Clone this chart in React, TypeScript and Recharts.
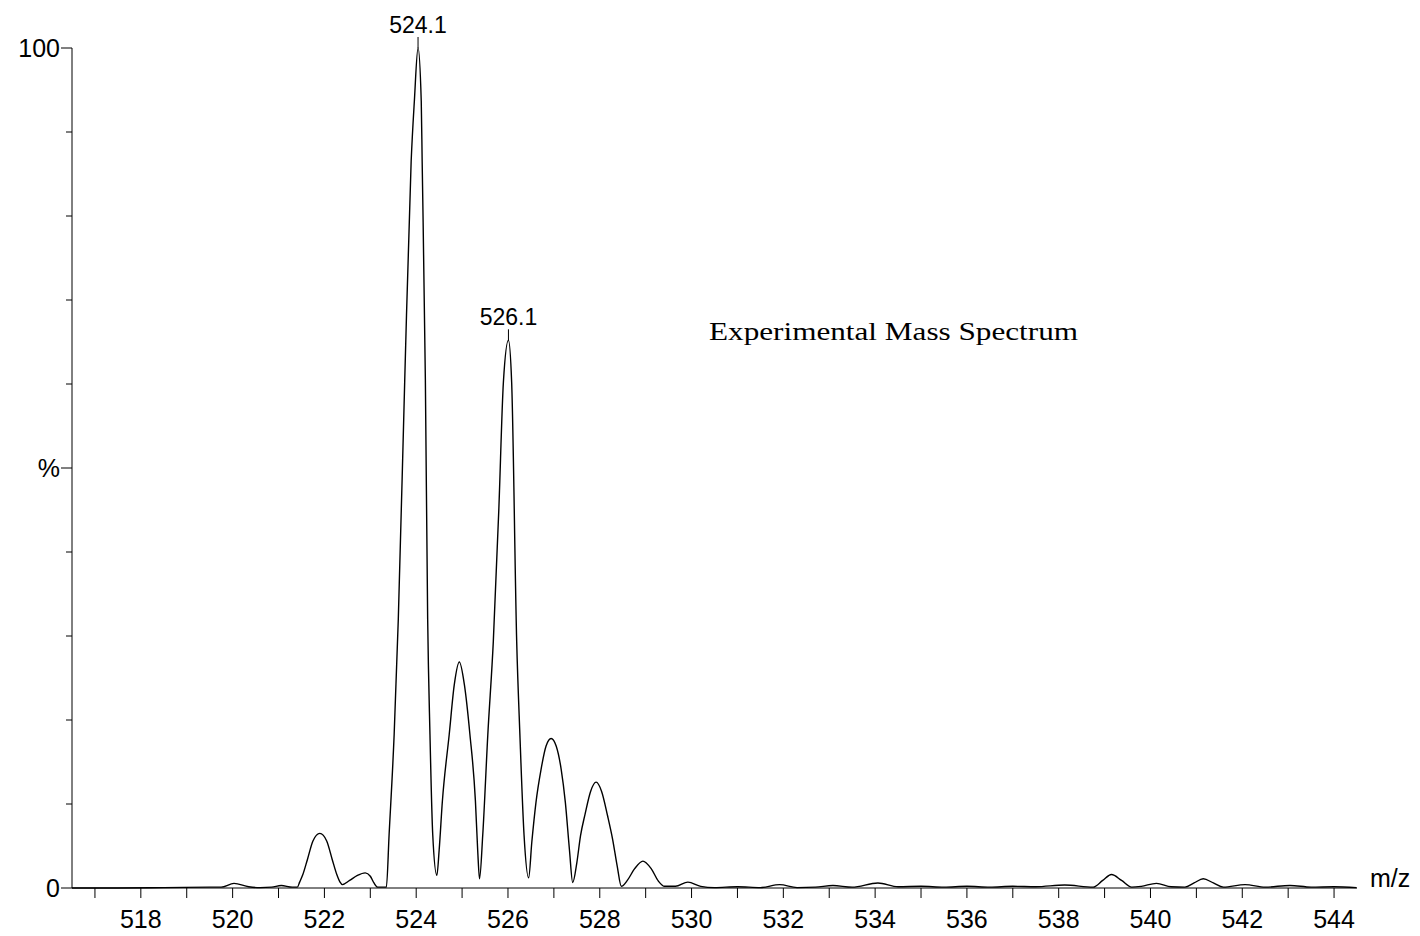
import React from "react";
import { LineChart, Line, XAxis, YAxis, ReferenceDot } from "recharts";

// m/z positions of the profile trace
const profileMz = [
  516.5, 517.5, 518.5, 519.5, 519.75, 520.03, 520.35, 520.6, 520.85, 521.06,
  521.3, 521.41, 521.46, 521.53, 521.63, 521.75, 521.9, 522.05, 522.17, 522.27,
  522.34, 522.39, 522.55, 522.72, 522.89, 523.0, 523.08, 523.16, 523.35, 523.41,
  523.52, 523.61, 523.75, 523.89, 523.96, 524.04, 524.11, 524.13, 524.2, 524.25,
  524.3, 524.36, 524.45, 524.5, 524.57, 524.72, 524.83, 524.94, 525.05, 525.17,
  525.29, 525.34, 525.38, 525.45, 525.56, 525.68, 525.8, 525.9, 526.01, 526.08,
  526.19, 526.26, 526.35, 526.45, 526.52, 526.61, 526.72, 526.83, 526.94, 527.05,
  527.16, 527.25, 527.34, 527.41, 527.5, 527.58, 527.68, 527.8, 527.92, 528.04,
  528.17, 528.28, 528.38, 528.47, 528.6, 528.76, 528.94, 529.12, 529.28, 529.41,
  529.65, 529.92, 530.2, 530.5, 531.0, 531.5, 531.92, 532.3, 532.7, 533.08,
  533.5, 534.06, 534.5, 535.0, 535.5, 536.0, 536.5, 537.0, 537.5, 538.13,
  538.75, 538.96, 539.15, 539.37, 539.59, 539.8, 540.13, 540.45, 540.75, 540.95,
  541.15, 541.37, 541.59, 542.06, 542.5, 543.04, 543.5, 544.0, 544.49,
];

// relative intensity (%) at each m/z above
const profileIntensity = [
  0, 0, 0.05, 0.1, 0.1, 0.55, 0.15, 0.05, 0.1, 0.3,
  0.1, 0.1, 0.7, 1.6, 3.4, 5.6, 6.5, 5.6, 3.4, 1.6,
  0.7, 0.4, 0.9, 1.5, 1.8, 1.4, 0.6, 0.1, 0.1, 6.4,
  18.3, 32, 60.4, 86.5, 93.7, 100, 93.7, 86.5, 60.4, 32,
  18.3, 6.4, 1.5, 4.5, 10.3, 18.3, 24.2, 26.9, 24.2, 18.3,
  10.4, 4.5, 1.1, 6.3, 18.2, 29.3, 45, 60.2, 65.2, 60.2,
  29.3, 18.2, 6.3, 1.2, 5.5, 10.2, 14.1, 16.9, 17.8, 16.9,
  14.1, 10.2, 4.5, 0.65, 3.0, 6.2, 8.8, 11.5, 12.6, 11.5,
  8.6, 5.8, 2.6, 0.2, 0.9, 2.3, 3.2, 2.3, 0.8, 0.2,
  0.2, 0.7, 0.2, 0.05, 0.15, 0.05, 0.4, 0.05, 0.1, 0.3,
  0.1, 0.6, 0.15, 0.2, 0.1, 0.2, 0.1, 0.2, 0.15, 0.35,
  0.1, 0.9, 1.6, 0.9, 0.1, 0.2, 0.55, 0.15, 0.1, 0.6,
  1.1, 0.6, 0.1, 0.4, 0.1, 0.3, 0.1, 0.15, 0.05,
];

const xTicks = [
  517, 518, 519, 520, 521, 522, 523, 524, 525, 526, 527, 528, 529, 530,
  531, 532, 533, 534, 535, 536, 537, 538, 539, 540, 541, 542, 543, 544,
];
const yTicks = [0, 10, 20, 30, 40, 50, 60, 70, 80, 90, 100];
const yTickLabels: Record<number, string> = { 0: "0", 50: "%", 100: "100" };

// annotated peaks: label text and apex position on the trace
const peakLabels = ["524.1", "526.1"];
const peakApexMz = [524.04, 526.01];
const peakApexIntensity = [100, 65.2];

const SANS = "'Liberation Sans', Arial, sans-serif";
const SERIF = "'Liberation Serif', 'Times New Roman', serif";

const data = profileMz.map((mz, i) => ({ mz, intensity: profileIntensity[i] }));

function YTick(props: any) {
  const { x, y, payload } = props;
  const label = yTickLabels[payload.value];
  const len = label !== undefined ? 11 : 6;
  return (
    <g>
      <line x1={x - len} y1={y} x2={x} y2={y} stroke="#000" strokeWidth={1} />
      {label !== undefined && (
        <text
          x={x - 12}
          y={y}
          dy="0.36em"
          textAnchor="end"
          fontSize={25}
          fontFamily={SANS}
          fill="#000"
        >
          {label}
        </text>
      )}
    </g>
  );
}

function PeakLabel(props: any) {
  const { cx, cy, text } = props;
  return (
    <g>
      <line x1={cx} y1={cy - 11} x2={cx} y2={cy} stroke="#000" strokeWidth={1} />
      <text
        x={cx}
        y={cy - 15}
        textAnchor="middle"
        fontSize={23}
        fontFamily={SANS}
        fill="#000"
      >
        {text}
      </text>
    </g>
  );
}

export default function App() {
  return (
    <div style={{ position: "absolute", left: 0, top: 0, background: "#fff" }}>
      <LineChart
        width={1420}
        height={936}
        data={data}
        margin={{ top: 48, right: 63, bottom: 0, left: 0 }}
      >
        <XAxis
          dataKey="mz"
          type="number"
          domain={[516.5, 544.5]}
          ticks={xTicks}
          interval={0}
          allowDataOverflow
          height={48}
          tickSize={10}
          tickMargin={12}
          axisLine={{ stroke: "#000", strokeWidth: 1 }}
          tickLine={{ stroke: "#000", strokeWidth: 1 }}
          tick={{ fontSize: 25, fill: "#000", fontFamily: SANS }}
          tickFormatter={(v: number) => (v % 2 === 0 ? String(v) : "")}
        />
        <YAxis
          type="number"
          domain={[0, 100]}
          ticks={yTicks}
          interval={0}
          width={72}
          tickSize={0}
          tickMargin={0}
          axisLine={{ stroke: "#000", strokeWidth: 1 }}
          tickLine={false}
          tick={<YTick />}
        />
        <Line
          type="monotone"
          dataKey="intensity"
          stroke="#000"
          strokeWidth={1.4}
          dot={false}
          isAnimationActive={false}
        />
        {peakLabels.map((label, i) => (
          <ReferenceDot
            key={label}
            x={peakApexMz[i]}
            y={peakApexIntensity[i]}
            r={0}
            shape={(p: any) => <PeakLabel {...p} text={label} />}
          />
        ))}
        <text x={1370} y={887} fontSize={25} fontFamily={SANS} fill="#000">
          m/z
        </text>
        <text
          x={709}
          y={340}
          fontSize={25}
          fontFamily={SERIF}
          fill="#000"
          textLength={369}
          lengthAdjust="spacingAndGlyphs"
        >
          Experimental Mass Spectrum
        </text>
      </LineChart>
    </div>
  );
}
